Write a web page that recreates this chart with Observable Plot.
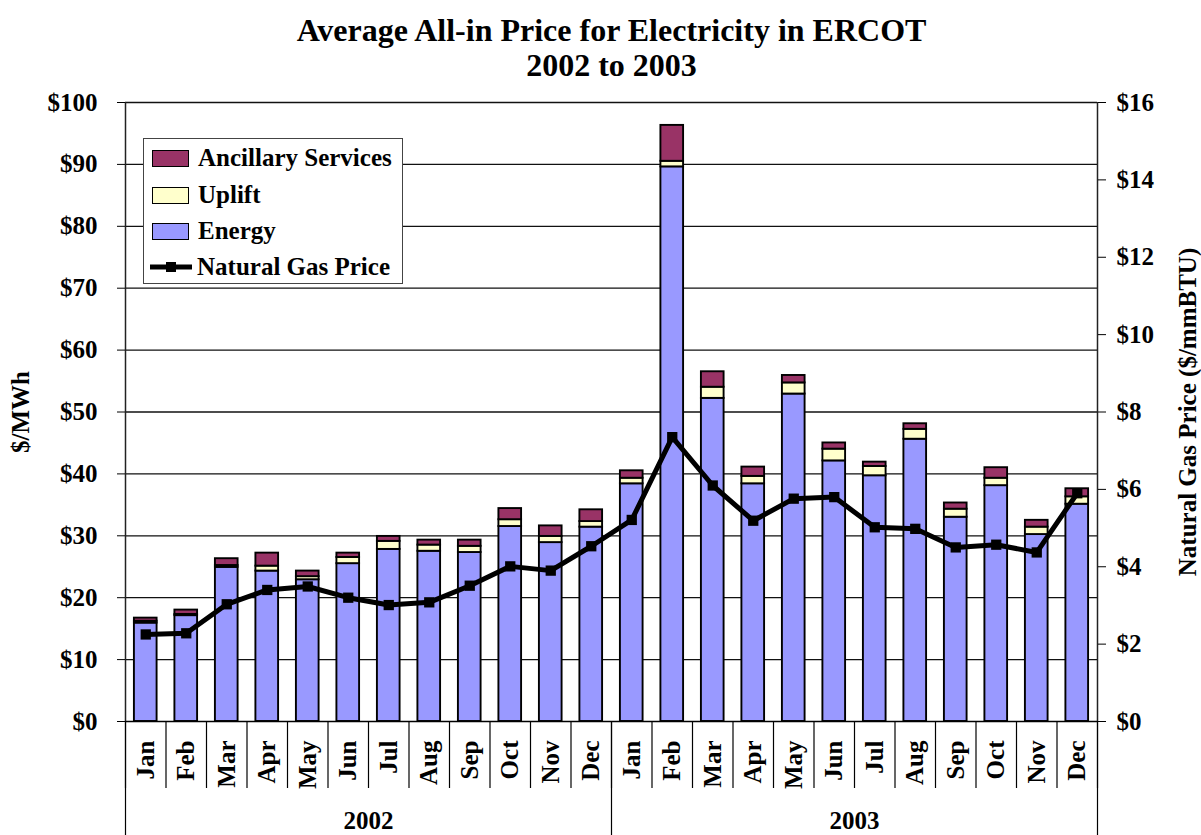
<!DOCTYPE html>
<html>
<head>
<meta charset="utf-8">
<script src="https://cdn.jsdelivr.net/npm/d3@7"></script>
<script src="https://cdn.jsdelivr.net/npm/@observablehq/plot@0.6"></script>
<style>
  body { margin: 0; background: white; }
  #wrap { position: relative; width: 1201px; height: 835px; }
  #legend {
    position: absolute; left: 143px; top: 138px; width: 258px; height: 144px;
    border: 1px solid #444; background: white;
    font-family: 'Liberation Serif', 'Times New Roman', serif; font-weight: bold; font-size: 25px;
  }
  .row { position: absolute; left: 0; height: 30px; display: flex; align-items: center; }
  .sw { width: 35px; height: 15px; border: 1.5px solid #000; margin-left: 8px; }
  .lbl { margin-left: 9px; white-space: nowrap; }
</style>
</head>
<body>
<div id="wrap"></div>
<script>
// ---- data ----
const months = ["Jan","Feb","Mar","Apr","May","Jun","Jul","Aug","Sep","Oct","Nov","Dec"];
const years = ["2002", "2003"];
const energy = [15.9, 17.1, 24.9, 24.3, 22.9, 25.5, 27.8, 27.5, 27.3, 31.5, 28.9, 31.4,
                38.4, 89.6, 52.2, 38.4, 52.9, 42.1, 39.7, 45.6, 33.0, 38.1, 30.2, 35.1];
const uplift = [0.3, 0.2, 0.3, 0.8, 0.5, 1.0, 1.3, 1.0, 1.0, 1.1, 1.0, 0.9,
                0.9, 0.9, 1.8, 1.2, 1.8, 1.9, 1.5, 1.6, 1.3, 1.2, 1.2, 1.2];
const ancillary = [0.5, 0.7, 1.1, 2.1, 0.9, 0.7, 0.8, 0.8, 1.0, 1.8, 1.7, 1.9,
                   1.2, 5.8, 2.5, 1.5, 1.2, 1.0, 0.7, 0.9, 1.0, 1.7, 1.1, 1.3];
const gasPrice = [2.25, 2.28, 3.03, 3.40, 3.49, 3.20, 3.01, 3.08, 3.51, 4.01, 3.90, 4.53,
                  5.21, 7.35, 6.10, 5.19, 5.76, 5.80, 5.02, 4.98, 4.50, 4.57, 4.37, 5.90];
const priceTicks = [0, 10, 20, 30, 40, 50, 60, 70, 80, 90, 100];
const gasTicks = [0, 2, 4, 6, 8, 10, 12, 14, 16];
const components = ["Energy", "Uplift", "Ancillary Services"];
const colors = ["#9999FF", "#FFFFCC", "#993366"];

// ---- derived tables ----
const priceMax = 100, gasMax = 16;
const toLeft = g => g * priceMax / gasMax;
const nMonths = energy.length;
const series = [energy, uplift, ancillary];
const stacked = [];
for (let i = 0; i < nMonths; i++) {
  let y0 = 0;
  series.forEach((arr, k) => {
    stacked.push({i, component: components[k], y1: y0, y2: y0 + arr[i]});
    y0 += arr[i];
  });
}
const monthRows = d3.range(nMonths).map(i => ({i, label: months[i % 12]}));
const gasRows = gasPrice.map((g, i) => ({i, g}));
const yearRows = years.map((y, k) => ({k, label: y}));
const half = 0.28;
const font = "'Liberation Serif', 'Times New Roman', serif";
const txt = {fontFamily: font, fontWeight: "bold", fill: "black"};

const chart = Plot.plot({
  width: 1201,
  height: 835,
  marginLeft: 125,
  marginRight: 104,
  marginTop: 102,
  marginBottom: 114,
  style: {fontFamily: font, fontSize: "25px", fontWeight: "bold", color: "black", background: "white"},
  x: {type: "linear", domain: [0, nMonths]},
  y: {type: "linear", domain: [0, priceMax]},
  color: {domain: components, range: colors},
  marks: [
    Plot.ruleY(priceTicks.filter(d => d > 0), {stroke: "#111", strokeWidth: 1.3}),
    Plot.rect(stacked, {
      x1: d => d.i + 0.5 - half, x2: d => d.i + 0.5 + half,
      y1: "y1", y2: "y2", fill: "component", stroke: "black", strokeWidth: 1.9
    }),
    Plot.line(gasRows, {x: d => d.i + 0.5, y: d => toLeft(d.g), stroke: "black", strokeWidth: 5}),
    Plot.dot(gasRows, {x: d => d.i + 0.5, y: d => toLeft(d.g), symbol: "square", r: 5.8, fill: "black", stroke: "none"}),
    Plot.ruleX([0, nMonths], {stroke: "#222", strokeWidth: 1.5}),
    Plot.ruleY([0], {stroke: "black", strokeWidth: 1.5}),
    Plot.axisY({anchor: "left", ticks: priceTicks, tickSize: 8, tickPadding: 20,
      tickFormat: d => "$" + d, label: null, fontSize: 25, fontWeight: "bold", fontFamily: font}),
    Plot.axisY({anchor: "right", ticks: gasTicks.map(toLeft), tickSize: 8, tickPadding: 11,
      tickFormat: d => "$" + Math.round(d * gasMax / priceMax), label: null, fontSize: 25, fontWeight: "bold", fontFamily: font}),
    // month separators and year separators
    Plot.axisX({anchor: "bottom", ticks: d3.range(0, nMonths + 1), tickSize: 67, tickFormat: () => "", label: null, strokeWidth: 1.2}),
    Plot.axisX({anchor: "bottom", ticks: d3.range(0, nMonths + 1, 12), tickSize: 114, tickFormat: () => "", label: null, strokeWidth: 1.2}),
    Plot.text(monthRows, {x: d => d.i + 0.5, text: "label", frameAnchor: "bottom", rotate: -90,
      textAnchor: "end", lineAnchor: "middle", dy: 19, fontSize: 25, ...txt}),
    Plot.text(yearRows, {x: d => d.k * 12 + 6, text: "label", frameAnchor: "bottom", lineAnchor: "middle",
      textAnchor: "middle", dy: 99, fontSize: 25, ...txt}),
    // titles
    Plot.text(["Average All-in Price for Electricity in ERCOT"], {frameAnchor: "top", lineAnchor: "middle", textAnchor: "middle", dy: -72, fontSize: 32, ...txt}),
    Plot.text(["2002 to 2003"], {frameAnchor: "top", lineAnchor: "middle", textAnchor: "middle", dy: -37, fontSize: 32, ...txt}),
    Plot.text(["$/MWh"], {frameAnchor: "left", textAnchor: "middle", lineAnchor: "middle", dx: -105, rotate: -90, fontSize: 25, ...txt}),
    Plot.text(["Natural Gas Price ($/mmBTU)"], {frameAnchor: "right", textAnchor: "middle", lineAnchor: "middle", dx: 90, rotate: -90, fontSize: 25, ...txt})
  ]
});

const wrap = document.getElementById("wrap");
wrap.appendChild(chart);

// legend (HTML)
const legend = document.createElement("div");
legend.id = "legend";
const rowsTop = [4, 41, 77, 113];
const entries = [
  {label: "Ancillary Services", color: colors[2]},
  {label: "Uplift", color: colors[1]},
  {label: "Energy", color: colors[0]},
  {label: "Natural Gas Price", line: true}
];
entries.forEach((e, k) => {
  const row = document.createElement("div");
  row.className = "row";
  row.style.top = rowsTop[k] + "px";
  if (e.line) {
    row.innerHTML = `<svg width="44" height="14" style="margin-left:5px"><line x1="1" x2="43" y1="7" y2="7" stroke="black" stroke-width="5"/><rect x="17" y="2" width="10" height="10" fill="black"/></svg><span class="lbl" style="margin-left:4px">${e.label}</span>`;
  } else {
    row.innerHTML = `<div class="sw" style="background:${e.color}"></div><span class="lbl">${e.label}</span>`;
  }
  legend.appendChild(row);
});
wrap.appendChild(legend);
</script>
</body>
</html>
